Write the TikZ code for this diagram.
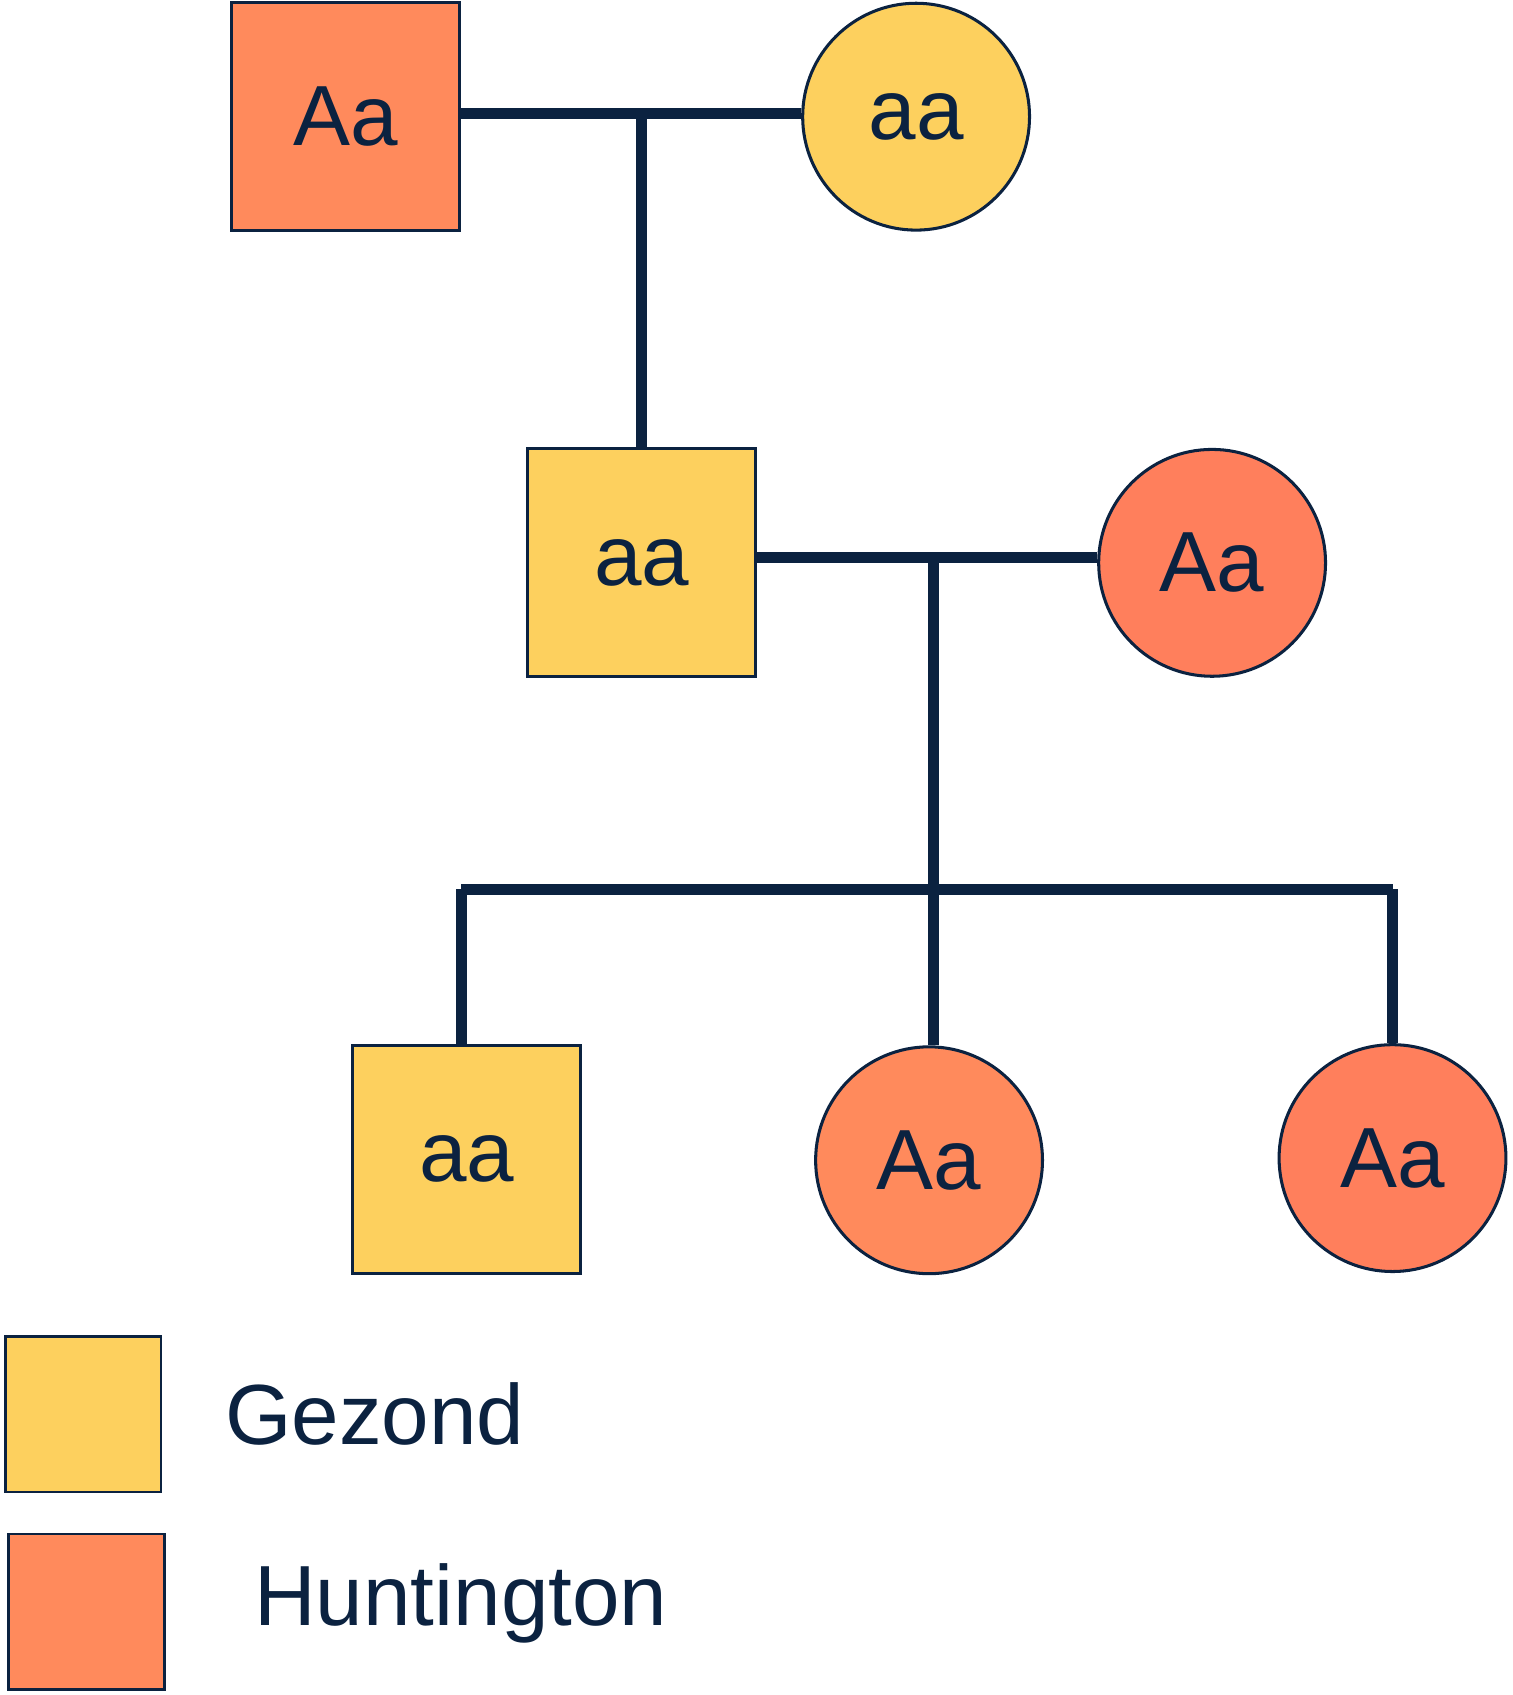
\documentclass[tikz,border=0pt]{standalone}
\usepackage{fontspec}
\setmainfont{Liberation Sans}
\definecolor{ink}{HTML}{0B2240}
\definecolor{yel}{HTML}{FDD05E}
\definecolor{ora}{HTML}{FF8A5C}
\definecolor{orb}{HTML}{FF7F5C}
\begin{document}
\begin{tikzpicture}[x=0.02cm,y=-0.02cm,
  txt/.style={font=\fontsize{45}{50}\selectfont,text=ink},
  sq/.style={draw=ink,line width=1.6pt,minimum size=211*0.02cm,inner sep=0,txt},
  ci/.style={circle,draw=ink,line width=1.6pt,minimum size=210*0.02cm,inner sep=0,txt},
  ln/.style={draw=ink,line width=5.7pt}]
\useasboundingbox (0,0) rectangle (1400,1569);
\node[sq,fill=ora] (p1) at (320,108) {Aa};
\node[ci,fill=yel] (p2) at (848,108) {aa};
\node[sq,fill=yel] (c1) at (594,521) {aa};
\node[ci,fill=orb] (c2) at (1122,521) {Aa};
\node[sq,fill=yel] (g1) at (432,1073) {aa};
\node[ci,fill=ora] (g2) at (860,1074) {Aa};
\node[ci,fill=orb] (g3) at (1289,1072) {Aa};
\coordinate (m1) at (594,105);
\coordinate (m2) at (864,516);
\coordinate (s) at (864,823);
\coordinate (sl) at (427,823);
\coordinate (sr) at (1289,823);
\draw[ln] (p1.east|-m1) -- (p2.west|-m1);
\draw[ln] (m1) -- (c1.north);
\draw[ln] (c1.east|-m2) -- (c2.west|-m2);
\draw[ln] (m2) -- (s);
\draw[ln] (sl) -- (sr);
\draw[ln] (sl) -- (sl|-g1.north);
\draw[ln] (s) -- (g2.north-|s);
\draw[ln] (sr) -- (g3.north);
\node[draw=ink,line width=1.4pt,fill=yel,minimum size=144*0.02cm,inner sep=0] (l1) at (77,1309) {};
\node[draw=ink,line width=1.4pt,fill=ora,minimum size=144*0.02cm,inner sep=0] (l2) at (80,1492) {};
\node[txt,anchor=base west,inner sep=0] (t1) at (208,1337) {Gezond};
\node[txt,anchor=base west,inner sep=0] (t2) at (235,1505) {Huntington};
\end{tikzpicture}
\end{document}
